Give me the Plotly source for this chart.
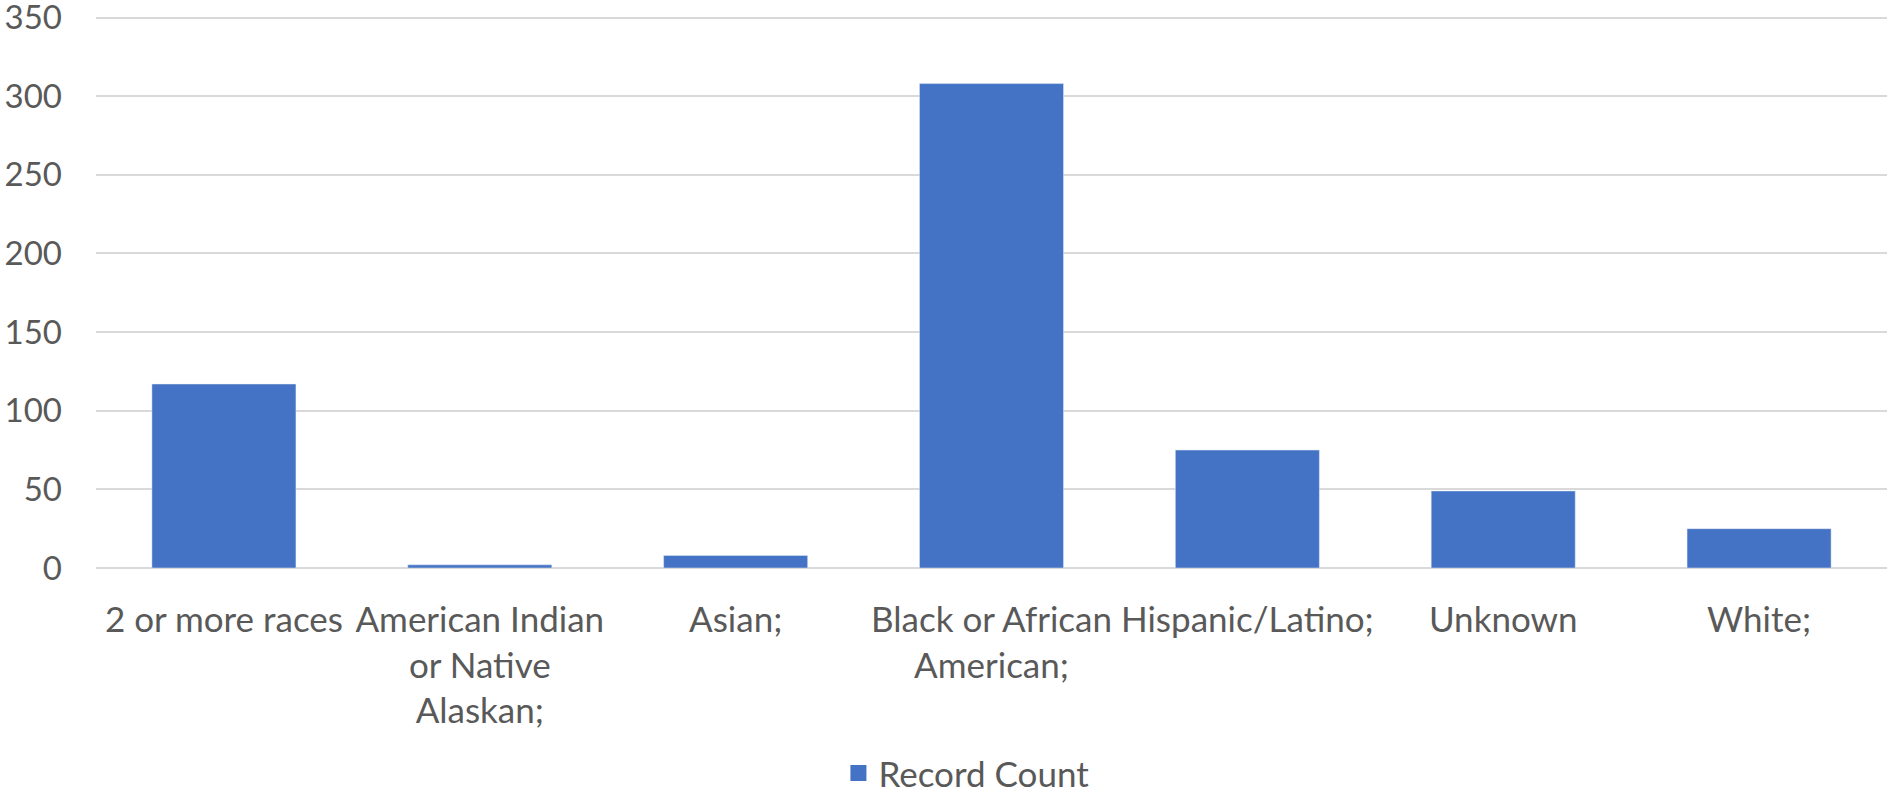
import plotly.graph_objects as go

categories = [
    "2 or more races",
    "American Indian<br>or Native<br>Alaskan;",
    "Asian;",
    "Black or African<br>American;",
    "Hispanic/Latino;",
    "Unknown",
    "White;",
]
record_count = [117, 2, 8, 308, 75, 49, 25]
y_ticks = [0, 50, 100, 150, 200, 250, 300, 350]
series_name = "Record Count"

BAR = "#4472C4"
TXT = "#595959"
GRID = "#D9D9D9"
FONT = "Lato, Carlito, Calibri, sans-serif"
FS = 35

fig = go.Figure()
fig.add_trace(go.Bar(x=categories, y=record_count, marker_color=BAR,
                     name=series_name, showlegend=False))
fig.add_trace(go.Scatter(x=[None], y=[None], mode="markers", name=series_name,
                         marker=dict(symbol="square", size=20, color=BAR)))

fig.update_layout(
    width=1903, height=796,
    margin=dict(l=96, r=16, t=16, b=228, autoexpand=False),
    paper_bgcolor="white", plot_bgcolor="white",
    font=dict(family=FONT, size=FS, color=TXT),
    bargap=0.437,
    legend=dict(orientation="h", x=0.486, xanchor="center", y=-0.372, yanchor="middle",
                font=dict(size=FS, color=TXT), itemsizing="trace"),
    xaxis=dict(showgrid=False, showline=False, ticks="", tickangle=0,
               ticklabelstandoff=28, tickfont=dict(size=FS, color=TXT)),
    yaxis=dict(range=[0, 351], tickvals=y_ticks, showgrid=True, gridcolor=GRID,
               gridwidth=1.5, zeroline=True, zerolinecolor=GRID, zerolinewidth=1.5,
               showline=False, ticks="", ticklabelstandoff=33, ticklabeloverflow="allow",
               tickfont=dict(size=33, color=TXT)),
)

fig.write_html("out.html", config={"displayModeBar": False},
               post_script="document.body.style.margin='0';")
